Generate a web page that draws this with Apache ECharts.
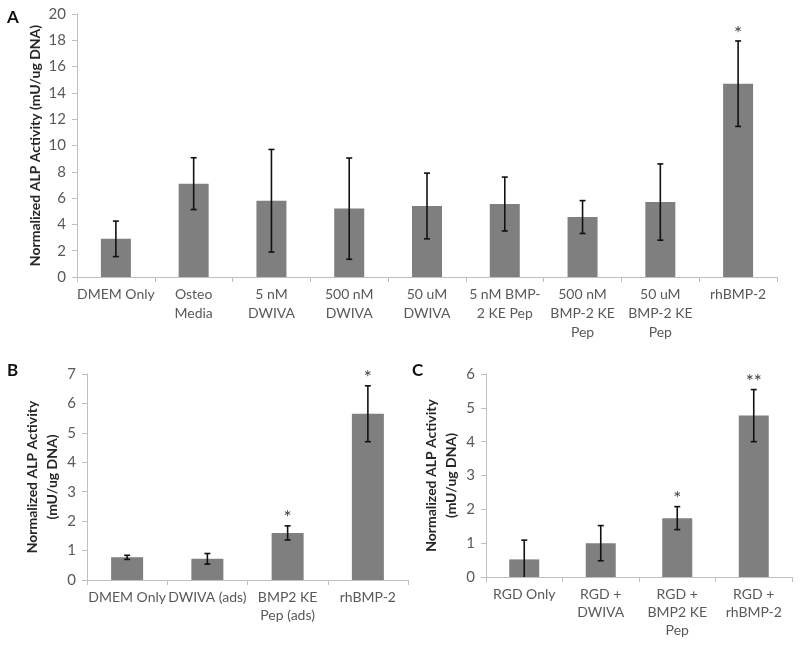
<!DOCTYPE html>
<html><head><meta charset="utf-8">
<script src="https://cdn.jsdelivr.net/npm/echarts@6/dist/echarts.min.js"></script>
<style>html,body{margin:0;padding:0;background:#fff}#c{width:800px;height:649px}</style>
</head><body><div id="c"></div>
<script>
// Panel A
const catsA = ['DMEM Only','Osteo\nMedia','5 nM\nDWIVA','500 nM\nDWIVA','50 uM\nDWIVA','5 nM BMP-\n2 KE Pep','500 nM\nBMP-2 KE\nPep','50 uM\nBMP-2 KE\nPep','rhBMP-2'];
const meanA = [2.9, 7.1, 5.8, 5.2, 5.4, 5.55, 4.56, 5.7, 14.7];
const errA  = [1.35, 1.97, 3.9, 3.85, 2.5, 2.05, 1.25, 2.9, 3.25];
const starA = ['', '', '', '', '', '', '', '', '*'];
// Panel B
const catsB = ['DMEM Only','DWIVA (ads)','BMP2 KE\nPep (ads)','rhBMP-2'];
const meanB = [0.77, 0.72, 1.6, 5.65];
const errB  = [0.07, 0.18, 0.24, 0.95];
const starB = ['', '', '*', '*'];
// Panel C
const catsC = ['RGD Only','RGD +\nDWIVA','RGD +\nBMP2 KE\nPep','RGD +\nrhBMP-2'];
const meanC = [0.52, 1.0, 1.74, 4.77];
const errC  = [0.57, 0.52, 0.34, 0.77];
const starC = ['', '', '*', '**'];

const yName1 = 'Normalized ALP Activity (mU/ug DNA)';
const yName2 = 'Normalized ALP Activity\n(mU/ug DNA)';

const FONT = 'Lato, "Open Sans", sans-serif';
const AXC = '#bfbfbf';
const TXT = '#595959';

function xAxis(gi, cats, lh){
  return {type:'category', gridIndex:gi, data:cats,
    axisLine:{lineStyle:{color:AXC, width:1}},
    axisTick:{show:true, length:5, lineStyle:{color:AXC}},
    axisLabel:{color:TXT, fontFamily:FONT, fontSize:14, lineHeight:lh, margin:8, interval:0}};
}
function yAxis(gi, max, iv, name, gap){
  return {type:'value', gridIndex:gi, min:0, max:max, interval:iv,
    name:name, nameLocation:'middle', nameGap:gap, nameMoveOverlap:false,
    nameTextStyle:{color:'#262626', fontFamily:FONT, fontSize:14, fontWeight:'bold', lineHeight:20},
    axisLine:{show:true, lineStyle:{color:AXC, width:1}},
    axisTick:{show:true, length:5, lineStyle:{color:AXC}},
    splitLine:{show:false},
    axisLabel:{color:TXT, fontFamily:FONT, fontSize:15, margin:11}};
}
function errSeries(gi, mean, err, stars){
  return {type:'custom', xAxisIndex:gi, yAxisIndex:gi, z:5,
    data: mean.map((m,i)=>[i, m, err[i]]),
    renderItem:function(params, api){
      const i = api.value(0), m = api.value(1), e = api.value(2);
      const hi = api.coord([i, m+e]);
      const loVal = m - e;
      const lo = api.coord([i, Math.max(loVal, 0)]);
      const cw = 3;
      const st = {stroke:'#111', lineWidth:1.6};
      const ch = [
        {type:'line', shape:{x1:hi[0], y1:hi[1], x2:lo[0], y2:lo[1]}, style:st},
        {type:'line', shape:{x1:hi[0]-cw, y1:hi[1], x2:hi[0]+cw, y2:hi[1]}, style:st}
      ];
      if (loVal > 0) ch.push({type:'line', shape:{x1:lo[0]-cw, y1:lo[1], x2:lo[0]+cw, y2:lo[1]}, style:st});
      const s = stars[params.dataIndex];
      if (s) ch.push({type:'text', x:hi[0], y:hi[1]+2, style:{text:s, fill:'#404040', font:'19px ' + FONT, align:'center', verticalAlign:'bottom'}});
      return {type:'group', children:ch};
    }};
}
function barSeries(gi, mean, bw){
  return {type:'bar', xAxisIndex:gi, yAxisIndex:gi, data:mean, barWidth:bw,
    itemStyle:{color:'#7f7f7f'}, silent:true};
}

const chart = echarts.init(document.getElementById('c'));
chart.setOption({
  animation:false,
  textStyle:{fontFamily:FONT},
  grid:[
    {left:77, right:23, top:14, bottom:372},
    {left:87, right:392, top:374, bottom:69},
    {left:486, right:8, top:374, bottom:72}
  ],
  xAxis:[xAxis(0, catsA, 19), xAxis(1, catsB, 18), xAxis(2, catsC, 18)],
  yAxis:[yAxis(0, 20, 2, yName1, 32), yAxis(1, 7, 1, yName2, 25), yAxis(2, 6, 1, yName2, 25)],
  series:[
    barSeries(0, meanA, 30), errSeries(0, meanA, errA, starA),
    barSeries(1, meanB, 32), errSeries(1, meanB, errB, starB),
    barSeries(2, meanC, 30), errSeries(2, meanC, errC, starC)
  ],
  graphic:[
    {type:'text', left:7, top:9, style:{text:'A', font:'bold 17px ' + FONT, fill:'#111'}},
    {type:'text', left:7, top:362, style:{text:'B', font:'bold 17px ' + FONT, fill:'#111'}},
    {type:'text', left:412, top:362, style:{text:'C', font:'bold 17px ' + FONT, fill:'#111'}}
  ]
});
</script></body></html>
